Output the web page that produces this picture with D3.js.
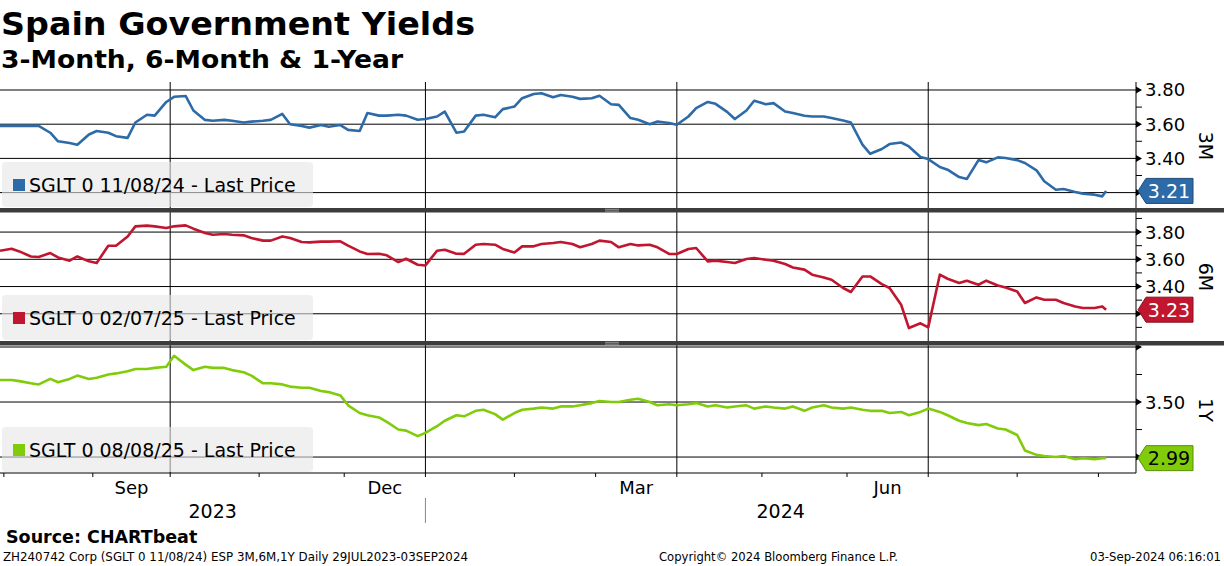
<!DOCTYPE html>
<html lang="en">
<head>
<meta charset="UTF-8">
<title>Spain Government Yields</title>
<script src="https://d3js.org/d3.v7.min.js"></script>
<style>
  body { margin: 0; background: #fff; }
  svg { display: block; }
  text { font-family: "DejaVu Sans", sans-serif; fill: #000; }
</style>
</head>
<body>
<script>
// sampled Mon / Thu closes, 31 Jul 2023 - 03 Sep 2024
const dates = [
  "2023-07-31","2023-08-03","2023-08-07","2023-08-10","2023-08-14","2023-08-17","2023-08-21","2023-08-24","2023-08-28","2023-08-31",
  "2023-09-04","2023-09-07","2023-09-11","2023-09-14","2023-09-18","2023-09-21","2023-09-25","2023-09-28",
  "2023-10-02","2023-10-05","2023-10-09","2023-10-12","2023-10-16","2023-10-19","2023-10-23","2023-10-26","2023-10-30",
  "2023-11-02","2023-11-06","2023-11-09","2023-11-13","2023-11-16","2023-11-20","2023-11-23","2023-11-27","2023-11-30",
  "2023-12-04","2023-12-07","2023-12-11","2023-12-14","2023-12-18","2023-12-21","2023-12-25","2023-12-28",
  "2024-01-01","2024-01-04","2024-01-08","2024-01-11","2024-01-15","2024-01-18","2024-01-22","2024-01-25","2024-01-29",
  "2024-02-01","2024-02-05","2024-02-08","2024-02-12","2024-02-15","2024-02-19","2024-02-22","2024-02-26","2024-02-29",
  "2024-03-04","2024-03-07","2024-03-11","2024-03-14","2024-03-18","2024-03-21","2024-03-25","2024-03-28",
  "2024-04-01","2024-04-04","2024-04-08","2024-04-11","2024-04-15","2024-04-18","2024-04-22","2024-04-25","2024-04-29",
  "2024-05-02","2024-05-06","2024-05-09","2024-05-13","2024-05-16","2024-05-20","2024-05-23","2024-05-27","2024-05-30",
  "2024-06-03","2024-06-06","2024-06-10","2024-06-13","2024-06-17","2024-06-20","2024-06-24","2024-06-27",
  "2024-07-01","2024-07-04","2024-07-08","2024-07-11","2024-07-15","2024-07-18","2024-07-22","2024-07-25","2024-07-29",
  "2024-08-01","2024-08-05","2024-08-08","2024-08-12","2024-08-15","2024-08-19","2024-08-22","2024-08-26","2024-08-29",
  "2024-09-02","2024-09-03"
];

const yield3M = [
  3.59,3.59,3.59,3.59,3.59,3.55,3.50,3.49,3.48,3.54,
  3.56,3.55,3.53,3.52,3.61,3.655,3.65,3.73,
  3.76,3.765,3.68,3.625,3.62,3.625,3.62,3.61,3.615,
  3.62,3.625,3.66,3.60,3.59,3.58,3.595,3.585,3.595,
  3.567,3.56,3.665,3.65,3.65,3.655,3.65,3.626,
  3.63,3.645,3.674,3.55,3.557,3.65,3.655,3.64,3.688,
  3.703,3.752,3.777,3.781,3.758,3.771,3.76,3.748,3.752,
  3.766,3.717,3.713,3.636,3.626,3.60,3.616,3.607,
  3.597,3.645,3.694,3.73,3.719,3.672,3.63,3.68,3.737,
  3.717,3.723,3.674,3.665,3.649,3.645,3.645,3.636,3.622,
  3.61,3.48,3.427,3.455,3.484,3.493,3.47,3.408,
  3.396,3.35,3.334,3.291,3.28,3.39,3.377,3.406,3.402,
  3.39,3.373,3.33,3.266,3.217,3.221,3.204,3.194,3.188,
  3.178,3.21
];

const yield6M = [
  3.663,3.678,3.658,3.621,3.617,3.646,3.614,3.59,3.621,3.585,
  3.573,3.70,3.70,3.768,3.842,3.847,3.842,3.83,
  3.842,3.849,3.825,3.793,3.78,3.786,3.78,3.776,3.756,
  3.737,3.737,3.768,3.756,3.727,3.724,3.73,3.73,3.732,
  3.70,3.658,3.639,3.641,3.629,3.58,3.604,3.56,
  3.555,3.663,3.67,3.641,3.64,3.707,3.712,3.707,3.676,
  3.65,3.695,3.695,3.712,3.72,3.727,3.712,3.688,3.712,
  3.737,3.727,3.688,3.712,3.702,3.707,3.688,3.639,
  3.639,3.676,3.683,3.585,3.59,3.58,3.573,3.602,3.609,
  3.597,3.59,3.565,3.54,3.524,3.487,3.467,3.45,3.389,
  3.36,3.474,3.474,3.418,3.389,3.266,3.095,3.13,
  3.10,3.487,3.457,3.426,3.443,3.413,3.443,3.408,3.393,
  3.364,3.279,3.32,3.303,3.303,3.279,3.254,3.242,3.242,
  3.254,3.23
];

const yield1Y = [
  3.70,3.70,3.69,3.67,3.66,3.71,3.68,3.71,3.74,3.71,
  3.72,3.75,3.76,3.78,3.80,3.80,3.81,3.82,
  3.92,3.84,3.79,3.82,3.81,3.81,3.79,3.77,3.74,
  3.67,3.67,3.66,3.64,3.63,3.63,3.60,3.59,3.56,
  3.47,3.40,3.38,3.36,3.32,3.25,3.24,3.19,
  3.22,3.28,3.33,3.38,3.37,3.42,3.43,3.39,3.34,
  3.40,3.43,3.44,3.45,3.44,3.46,3.46,3.47,3.49,
  3.51,3.50,3.50,3.52,3.53,3.50,3.47,3.48,
  3.47,3.48,3.49,3.46,3.47,3.45,3.46,3.47,3.44,
  3.46,3.45,3.44,3.46,3.42,3.45,3.47,3.45,3.44,
  3.45,3.43,3.42,3.42,3.40,3.41,3.38,3.41,
  3.44,3.41,3.38,3.33,3.31,3.29,3.30,3.26,3.25,
  3.20,3.06,3.02,3.01,3.00,3.01,2.98,2.99,2.98,
  2.99,2.99
];

const seriesNames = ["3M", "6M", "1Y"];
const legendLabels = ["SGLT 0 11/08/24 - Last Price", "SGLT 0 02/07/25 - Last Price", "SGLT 0 08/08/25 - Last Price"];
const gridTicks = [[3.2, 3.4, 3.6, 3.8], [3.2, 3.4, 3.6, 3.8], [3.0, 3.5, 4.0]];
const labelTicks = [[3.4, 3.6, 3.8], [3.4, 3.6, 3.8], [3.5]];
const minorTicks = [[3.3, 3.5, 3.7], [3.1, 3.3, 3.5, 3.7, 3.9], [3.25, 3.75]];
const monthLabels = ["Sep", "Dec", "Mar", "Jun"];
const monthLabelStarts = ["2023-09-01", "2023-12-01", "2024-03-01", "2024-06-01"];
const yearLabels = ["2023", "2024"];

const width = 1224, height = 566;
const plotRight = 1136, axisY = 473;
const parse = d3.utcParse("%Y-%m-%d");
const start = parse("2023-07-31");

// bloomberg x axis runs on weekdays only
function tradingDay(d) {
  return d3.utcDay.count(start, d) - d3.utcSaturday.count(start, d) - d3.utcSunday.count(start, d);
}

const x = d3.scaleLinear().domain([0, 287]).range([0, 1110]);
const xd = d => x(tradingDay(d));

const panels = [
  { values: yield3M, color: "#2d6aa8", textColor: "#fff", top: 84, bottom: 208, domain: [3.11, 3.835] },
  { values: yield6M, color: "#c0162f", textColor: "#fff", top: 213, bottom: 341, domain: [3.0, 3.94] },
  { values: yield1Y, color: "#80cc0a", textColor: "#000", top: 347, bottom: 473, domain: [2.855, 4.0] }
];

const svg = d3.select("body").append("svg")
  .attr("width", width)
  .attr("height", height);

// titles
svg.append("text").attr("x", 1).attr("y", 35)
  .attr("font-size", 32).attr("font-weight", "bold")
  .attr("textLength", 474).attr("lengthAdjust", "spacingAndGlyphs")
  .text("Spain Government Yields");
svg.append("text").attr("x", 1).attr("y", 68)
  .attr("font-size", 24).attr("font-weight", "bold")
  .attr("textLength", 402).attr("lengthAdjust", "spacingAndGlyphs")
  .text("3-Month, 6-Month & 1-Year");

// month ticks
const months = d3.utcMonth.range(parse("2023-08-01"), parse("2024-09-30"));
const quarterly = d => d.getUTCMonth() % 3 === 0;

svg.append("g").selectAll("line")
  .data(months.filter(quarterly))
  .join("line")
  .attr("x1", xd).attr("x2", xd)
  .attr("y1", 82).attr("y2", axisY + 4)
  .attr("stroke", "#000").attr("stroke-width", 1);

svg.append("g").selectAll("line")
  .data(months.filter(d => !quarterly(d)))
  .join("line")
  .attr("x1", xd).attr("x2", xd)
  .attr("y1", axisY).attr("y2", axisY + 4)
  .attr("stroke", "#000").attr("stroke-width", 1);

panels.forEach((p, i) => {
  const y = d3.scaleLinear().domain(p.domain).range([p.bottom, p.top]);
  const g = svg.append("g");

  g.selectAll(".grid")
    .data(gridTicks[i])
    .join("line")
    .attr("class", "grid")
    .attr("x1", 0).attr("x2", plotRight)
    .attr("y1", d => y(d)).attr("y2", d => y(d))
    .attr("stroke", "#000").attr("stroke-width", 1);

  // legend
  g.append("rect")
    .attr("x", 2).attr("y", p.bottom - 46)
    .attr("width", 311).attr("height", 45).attr("rx", 4)
    .attr("fill", "#e6e6e6").attr("fill-opacity", 0.6);
  g.append("rect")
    .attr("x", 13).attr("y", p.bottom - 29)
    .attr("width", 12).attr("height", 12)
    .attr("fill", p.color);
  g.append("text")
    .attr("x", 29).attr("y", p.bottom - 16)
    .attr("font-size", 19)
    .text(legendLabels[i]);

  const series = dates.map((d, k) => ({ date: parse(d), value: p.values[k] }));
  g.append("path")
    .datum(series)
    .attr("fill", "none")
    .attr("stroke", p.color)
    .attr("stroke-width", 2.6)
    .attr("stroke-linejoin", "round")
    .attr("d", d3.line().x(d => xd(d.date)).y(d => y(d.value)));

  // right axis ticks
  g.selectAll(".major")
    .data(gridTicks[i])
    .join("path")
    .attr("class", "major")
    .attr("d", d => `M${plotRight},${y(d) - 3.5}L${plotRight + 6},${y(d)}L${plotRight},${y(d) + 3.5}Z`)
    .attr("fill", "#000");
  g.selectAll(".minor")
    .data(minorTicks[i])
    .join("line")
    .attr("class", "minor")
    .attr("x1", plotRight).attr("x2", plotRight + 6)
    .attr("y1", d => y(d)).attr("y2", d => y(d))
    .attr("stroke", "#000");
  g.selectAll(".tlabel")
    .data(labelTicks[i])
    .join("text")
    .attr("class", "tlabel")
    .attr("x", plotRight + 9).attr("y", d => y(d))
    .attr("dy", "0.36em")
    .attr("font-size", 18)
    .text(d => d.toFixed(2));

  // last price tag
  const last = p.values[p.values.length - 1];
  const ly = y(last);
  g.append("path")
    .attr("d", `M${plotRight + 2},${ly}L${plotRight + 10},${ly - 12.5}L${plotRight + 57},${ly - 12.5}L${plotRight + 57},${ly + 12.5}L${plotRight + 10},${ly + 12.5}Z`)
    .attr("fill", p.color)
    .attr("stroke", d3.color(p.color).darker(1))
    .attr("stroke-width", 1);
  g.append("text")
    .attr("x", plotRight + 33).attr("y", ly)
    .attr("dy", "0.36em")
    .attr("text-anchor", "middle")
    .attr("font-size", 19)
    .style("fill", p.textColor)
    .text(last.toFixed(2));

  // panel name
  g.append("text")
    .attr("transform", `translate(1206,${(p.top + p.bottom) / 2}) rotate(90)`)
    .attr("text-anchor", "middle")
    .attr("dy", "0.36em")
    .attr("font-size", 19)
    .text(seriesNames[i]);
});

// right axis and bottom axis
svg.append("line")
  .attr("x1", plotRight).attr("x2", plotRight)
  .attr("y1", 82).attr("y2", axisY)
  .attr("stroke", "#000");
svg.append("line")
  .attr("x1", 0).attr("x2", plotRight)
  .attr("y1", axisY).attr("y2", axisY)
  .attr("stroke", "#000");

// panel separators
[208, 341].forEach(yy => {
  svg.append("rect")
    .attr("x", 0).attr("y", yy).attr("width", width).attr("height", 4.5)
    .attr("fill", "#3c3c3c");
  [yy + 1.3, yy + 3.1].forEach(gy => {
    svg.append("line")
      .attr("x1", 605).attr("x2", 619)
      .attr("y1", gy).attr("y2", gy)
      .attr("stroke", "#a8a8a8").attr("stroke-width", 0.8);
  });
});

// month and year labels
svg.append("g").selectAll("text")
  .data(monthLabels)
  .join("text")
  .attr("x", (d, k) => {
    const m0 = parse(monthLabelStarts[k]);
    return (xd(m0) + xd(d3.utcMonth.offset(m0, 1))) / 2;
  })
  .attr("y", 494)
  .attr("text-anchor", "middle")
  .attr("font-size", 18)
  .text(d => d);

const yearBreak = xd(parse("2024-01-01"));
svg.append("g").selectAll("text")
  .data(yearLabels)
  .join("text")
  .attr("x", (d, k) => k === 0 ? yearBreak / 2 : (yearBreak + plotRight) / 2)
  .attr("y", 518)
  .attr("text-anchor", "middle")
  .attr("font-size", 19)
  .text(d => d);
svg.append("line")
  .attr("x1", yearBreak).attr("x2", yearBreak)
  .attr("y1", 498).attr("y2", 523)
  .attr("stroke", "#888");

// footer
svg.append("text").attr("x", 6).attr("y", 543)
  .attr("font-size", 17.5).attr("font-weight", "bold")
  .text("Source: CHARTbeat");
svg.append("text").attr("x", 3).attr("y", 561)
  .attr("font-size", 12)
  .attr("textLength", 465).attr("lengthAdjust", "spacingAndGlyphs")
  .text("ZH240742 Corp (SGLT 0 11/08/24) ESP 3M,6M,1Y  Daily 29JUL2023-03SEP2024");
svg.append("text").attr("x", 659).attr("y", 561)
  .attr("font-size", 12)
  .attr("textLength", 239).attr("lengthAdjust", "spacingAndGlyphs")
  .text("Copyright\u00a9 2024 Bloomberg Finance L.P.");
svg.append("text").attr("x", 1090).attr("y", 561)
  .attr("font-size", 12)
  .attr("textLength", 131).attr("lengthAdjust", "spacingAndGlyphs")
  .text("03-Sep-2024 06:16:01");
</script>
</body>
</html>
